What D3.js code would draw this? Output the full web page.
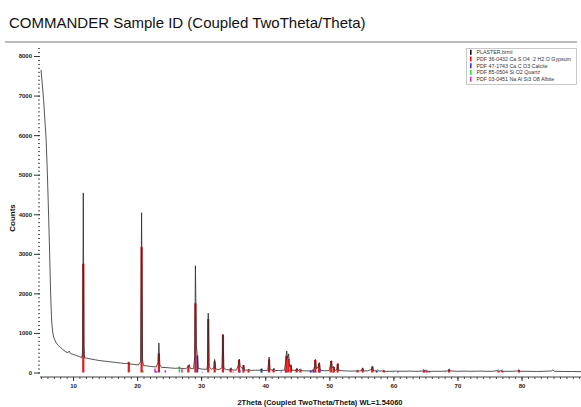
<!DOCTYPE html>
<html>
<head>
<meta charset="utf-8">
<script src="https://cdn.jsdelivr.net/npm/d3@7"></script>
<style>
  body { margin: 0; background: #fff; }
  svg { display: block; font-family: "Liberation Sans", Arial, sans-serif; }
</style>
</head>
<body>
<div id="chart"></div>
<script>
// chart size
const width = 581;
const height = 407;

const scanTheta = [5.0,5.2,5.4,5.6,5.8,6.0,6.2,6.35,6.5,6.65,6.8,7.0,7.3,7.6,8.0,8.4,8.8,9.2,9.4,9.6,10.0,10.5,11.0,11.4,11.5,11.6,11.7,11.8,12.2,12.8,13.5,14.2,15.0,15.8,16.6,17.4,18.2,18.6,18.8,19.5,20.2,20.55,20.7,20.85,21.0,21.6,22.3,23.0,23.25,23.4,23.55,23.8,24.5,25.2,26.0,26.6,27.0,27.6,28.0,28.15,28.3,28.8,29.0,29.1,29.25,29.4,29.55,30.2,30.9,31.0,31.1,31.25,31.6,32.0,32.1,32.25,32.8,33.25,33.4,33.55,34.0,34.5,34.65,34.8,35.5,35.85,35.95,36.1,36.5,36.6,36.75,37.3,37.45,37.6,38.5,39.3,39.45,39.6,40.4,40.6,40.75,41.2,41.35,41.5,42.2,43.0,43.2,43.35,43.5,43.65,43.8,44.0,44.15,44.8,44.95,45.1,45.5,45.65,46.5,47.3,47.55,47.7,47.85,48.0,48.3,48.45,48.6,49.2,50.0,50.15,50.3,50.45,50.7,50.85,51.2,51.35,51.5,52.5,53.4,54.3,54.45,54.6,55.05,55.2,55.35,56.0,56.6,56.75,56.9,57.4,57.55,57.7,58.3,58.5,58.65,59.5,60.5,61.5,62.5,63.5,64.5,64.75,64.95,65.2,65.4,66.5,67.5,68.5,68.7,68.9,70.0,71.0,72.0,73.5,74.5,75.5,76.2,76.4,76.6,77.0,77.2,78.5,79.4,79.6,79.8,81.0,82.5,83.5,84.7,84.9,85.1,86.5,88.0,90.0];
const scanCounts = [7650,7300,6900,6400,5900,5000,3900,3000,2000,1350,1050,880,770,700,640,580,530,500,540,480,460,430,400,380,600,4540,700,370,360,340,320,300,285,270,255,240,225,235,215,205,190,280,4040,320,175,165,150,140,250,745,200,130,125,115,105,115,100,95,150,200,100,95,400,2700,700,420,100,85,80,200,1500,150,80,120,330,90,75,120,960,100,70,65,120,65,60,200,340,150,90,190,60,60,90,55,55,60,100,50,55,390,70,55,110,50,50,60,300,545,350,470,150,200,60,50,110,45,90,45,40,45,90,150,330,90,160,250,60,45,50,180,300,120,150,50,80,230,50,40,35,40,60,35,50,120,40,40,80,160,40,45,70,35,40,60,30,30,35,30,35,30,35,75,40,60,30,30,30,40,90,40,30,35,30,35,30,30,45,65,35,60,30,30,40,70,30,30,25,30,40,70,30,25,25,20];

// reference patterns (stick positions and heights)
const gypsumTheta = [11.6,18.7,20.7,23.4,28.0,29.1,31.1,32.1,33.4,34.6,35.9,36.6,37.4,40.6,41.3,43.3,43.6,44.0,44.9,45.5,47.8,48.4,50.3,50.7,51.3,54.4,55.2,56.7,58.5,64.8,65.2,68.7,76.4,77.0,79.6];
const gypsumCounts = [2750,270,3170,480,180,1750,1350,280,960,100,320,180,60,330,80,420,350,180,90,70,320,230,290,140,220,50,100,150,50,60,40,70,40,40,60];
const calciteTheta = [23.0,29.4,36.0,39.4,43.2,47.1,47.5,48.5,57.4,60.7,64.7,65.6];
const calciteCounts = [30,430,60,90,70,40,70,80,40,20,20,20];
const quartzTheta = [20.9,26.6,36.5,39.5,50.1,60.0,68.1];
const quartzCounts = [50,150,20,20,30,20,20];
const albiteTheta = [22.8,24.4,27.0,30.2,35.0,42.5,48.0,50.6];
const albiteCounts = [100,60,80,20,25,25,20,20];

const legendLabels = [
  "PLASTER.brml",
  "PDF 36-0432 Ca S O4 \u00b72 H2 O Gypsum",
  "PDF 47-1743 Ca C O3 Calcite",
  "PDF 85-0504 Si O2 Quartz",
  "PDF 03-0451 Na Al Si3 O8 Albite"
];
const legendColors = ["#111111", "#e3191c", "#3434d8", "#2fdc2f", "#d830d8"];

const yTicks = [0,1000,2000,3000,4000,5000,6000,7000,8000];
const xTicks = [10,20,30,40,50,60,70,80,90];

const svg = d3.select("#chart").append("svg")
  .attr("width", width)
  .attr("height", height);

// title and rule
svg.append("text")
  .attr("x", 9)
  .attr("y", 28)
  .attr("font-size", 15)
  .attr("fill", "#111")
  .text("COMMANDER Sample ID (Coupled TwoTheta/Theta)");

svg.append("line")
  .attr("x1", 5).attr("x2", 577)
  .attr("y1", 42).attr("y2", 42)
  .attr("stroke", "#777")
  .attr("stroke-width", 1.2);

const xScale = d3.scaleLinear().domain([5, 90]).range([41, 585.6]);
const yScale = d3.scaleLinear().domain([0, 8000]).range([372.5, 56]);

const plotTop = 45, plotBottom = 377, plotLeft = 40;

svg.append("clipPath").attr("id", "clip")
  .append("rect")
  .attr("x", plotLeft).attr("y", plotTop)
  .attr("width", width - plotLeft).attr("height", plotBottom - plotTop);

const plot = svg.append("g").attr("clip-path", "url(#clip)");

// reference sticks
function sticks(thetas, counts, color, w) {
  plot.append("g")
    .attr("stroke", color)
    .attr("stroke-width", w)
    .selectAll("line")
    .data(thetas.map((t, i) => [t, counts[i]]))
    .join("line")
      .attr("x1", d => xScale(d[0])).attr("x2", d => xScale(d[0]))
      .attr("y1", yScale(0)).attr("y2", d => yScale(d[1]));
}
sticks(albiteTheta, albiteCounts, legendColors[4], 1.6);
sticks(quartzTheta, quartzCounts, legendColors[3], 1.6);
sticks(calciteTheta, calciteCounts, legendColors[2], 2);
sticks(gypsumTheta, gypsumCounts, legendColors[1], 2.2);

// measured scan
const line = d3.line()
  .x(d => xScale(d[0]))
  .y(d => yScale(d[1]));

plot.append("path")
  .datum(scanTheta.map((t, i) => [t, scanCounts[i]]))
  .attr("fill", "none")
  .attr("stroke", "#2a2a2a")
  .attr("stroke-opacity", 0.8)
  .attr("stroke-width", 1)
  .attr("d", line);

// y axis
svg.append("g")
  .attr("transform", `translate(${plotLeft},0)`)
  .call(d3.axisLeft(yScale).tickValues(d3.range(0, 8300, 100)).tickSize(2).tickFormat(""))
  .call(g => g.select(".domain").remove())
  .call(g => g.selectAll("line").attr("stroke", "#555"));

svg.append("g")
  .attr("transform", `translate(${plotLeft},0)`)
  .call(d3.axisLeft(yScale).tickValues(yTicks).tickSize(6).tickPadding(2).tickFormat(d3.format("d")))
  .call(g => g.select(".domain").remove())
  .call(g => g.selectAll("line").attr("stroke", "#333"))
  .call(g => g.selectAll("text")
    .attr("font-size", 6)
    .attr("font-weight", "bold")
    .attr("fill", "#222")
    .attr("font-family", "Liberation Sans, Arial, sans-serif"));

svg.append("text")
  .attr("transform", "translate(15,218) rotate(-90)")
  .attr("text-anchor", "middle")
  .attr("font-size", 8)
  .attr("font-weight", "bold")
  .attr("fill", "#111")
  .text("Counts");

// x axis
svg.append("line")
  .attr("x1", plotLeft).attr("x2", width)
  .attr("y1", plotBottom).attr("y2", plotBottom)
  .attr("stroke", "#444");

svg.append("g")
  .attr("transform", `translate(0,${plotBottom})`)
  .call(d3.axisBottom(xScale).tickValues(d3.range(5, 91, 1)).tickSize(2).tickFormat(""))
  .call(g => g.select(".domain").remove())
  .call(g => g.selectAll("line").attr("stroke", "#444"));

svg.append("g")
  .attr("transform", `translate(0,${plotBottom})`)
  .call(d3.axisBottom(xScale).tickValues(xTicks).tickSize(4).tickPadding(3))
  .call(g => g.select(".domain").remove())
  .call(g => g.selectAll("line").attr("stroke", "#333"))
  .call(g => g.selectAll("text")
    .attr("font-size", 6)
    .attr("font-weight", "bold")
    .attr("fill", "#222")
    .attr("font-family", "Liberation Sans, Arial, sans-serif"));

svg.append("text")
  .attr("x", 320)
  .attr("y", 405)
  .attr("text-anchor", "middle")
  .attr("font-size", 7.5)
  .attr("font-weight", "bold")
  .attr("fill", "#111")
  .text("2Theta (Coupled TwoTheta/Theta) WL=1.54060");

// legend
const legend = svg.append("g");
legend.append("rect")
  .attr("x", 466.5).attr("y", 48.5)
  .attr("width", 110).attr("height", 36)
  .attr("fill", "#fff")
  .attr("stroke", "#bbb")
  .attr("stroke-width", 0.8);

const rows = legend.selectAll("g.row")
  .data(legendLabels)
  .join("g")
    .attr("class", "row")
    .attr("transform", (d, i) => `translate(0,${52.3 + i * 6.7})`);

rows.append("rect")
  .attr("x", 470).attr("y", -2.5)
  .attr("width", 1.6).attr("height", 5)
  .attr("fill", (d, i) => legendColors[i]);

rows.append("text")
  .attr("x", 476.5)
  .attr("y", 2)
  .attr("font-size", 5.3)
  .attr("fill", "#333")
  .text(d => d);
</script>
</body>
</html>
